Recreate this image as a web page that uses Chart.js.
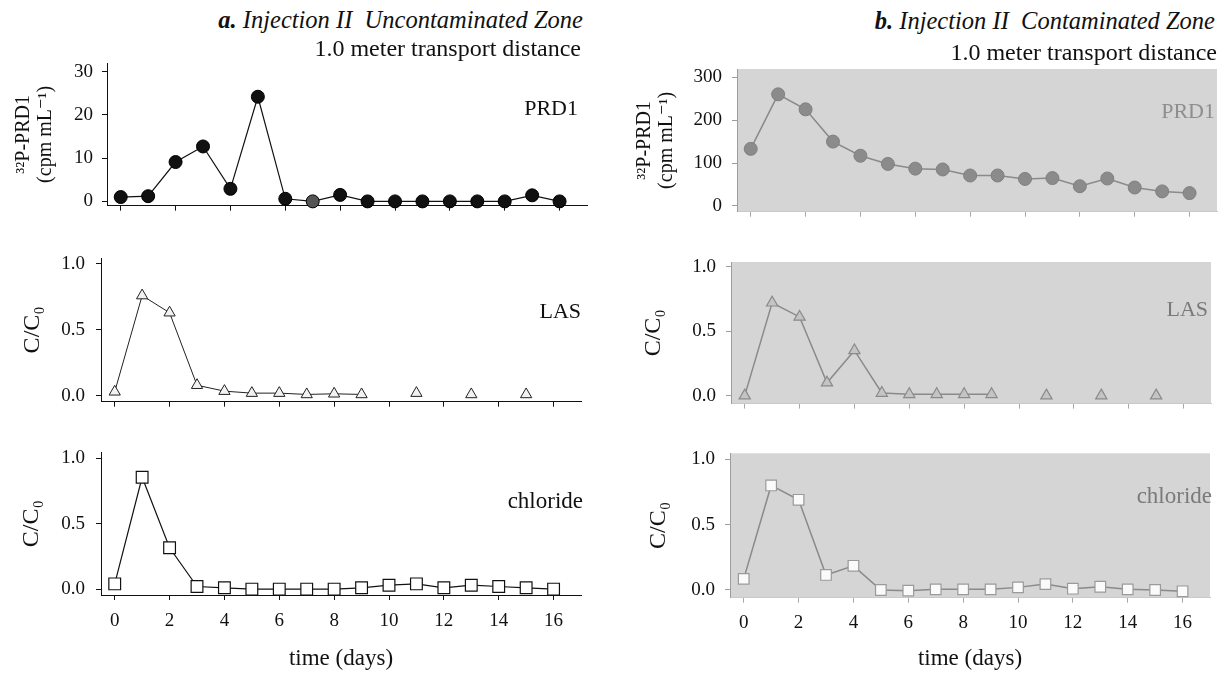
<!DOCTYPE html>
<html><head><meta charset="utf-8">
<script src="https://cdn.jsdelivr.net/npm/chart.js@4.4.0/dist/chart.umd.min.js"></script>
<style>
html,body{margin:0;padding:0;background:#fff;}
body{width:1222px;height:673px;position:relative;overflow:hidden;font-family:"Liberation Serif","DejaVu Serif",serif;color:#111;}
canvas{position:absolute;z-index:1;}
.t{position:absolute;white-space:pre;line-height:1;z-index:5;}
.it{font-style:italic;}
</style></head><body>
<div class="t it" style="right:639px;top:8px;font-size:24.5px;"><b>a.</b> Injection II  Uncontaminated Zone</div>
<div class="t" style="right:641px;top:36px;font-size:24px;">1.0 meter transport distance</div>
<div class="t it" style="right:7px;top:9px;font-size:24.5px;"><b>b.</b> Injection II  Contaminated Zone</div>
<div class="t" style="right:5px;top:40px;font-size:24px;">1.0 meter transport distance</div>
<div class="t" style="right:644px;top:97px;font-size:22px;">PRD1</div>
<div class="t" style="right:641px;top:300px;font-size:22px;">LAS</div>
<div class="t" style="right:639px;top:489px;font-size:23px;">chloride</div>
<div class="t" style="right:7px;top:100px;font-size:22px;color:#8e8e8e;">PRD1</div>
<div class="t" style="right:14px;top:298px;font-size:22px;color:#7a7a7a;">LAS</div>
<div class="t" style="right:10px;top:484px;font-size:23px;color:#7a7a7a;">chloride</div>
<script>
// ---- data ----
const days = [0,1,2,3,4,5,6,7,8,9,10,11,12,13,14,15,16];
const xTicks = [0,2,4,6,8,10,12,14,16];
const prdTicksA = [0,10,20,30];
const prdTicksB = [0,100,200,300];
const ratioTicks = [0,0.5,1.0];

// a. Uncontaminated zone
const prdA = [1.0,1.2,9.1,12.7,2.9,24.2,0.6,0.0,1.5,0,0,0,0,0,0,1.4,0];
const lasA = [0.03,0.76,0.63,0.08,0.035,0.02,0.02,0.01,0.015,0.01,null,0.02,null,0.01,null,0.01,null];
const chlA = [0.04,0.855,0.316,0.02,0.01,0,0,0,0,0.01,0.03,0.04,0.01,0.03,0.02,0.01,0];
// b. Contaminated zone
const prdB = [133,260,225,150,117,98,87,85,71,71,63,65,46,64,43,34,30];
const lasB = [0,0.72,0.61,0.1,0.35,0.02,0.01,0.01,0.01,0.01,null,0,null,0,null,0,null];
const chlB = [0.085,0.80,0.69,0.115,0.185,0,-0.005,0.005,0.005,0.005,0.02,0.045,0.01,0.025,0.005,0,-0.01];

const FONT = '"Liberation Serif", "DejaVu Serif", serif';

Chart.register({
  id:'bg',
  beforeDraw(chart, args, opts){
    if(!opts || !opts.color) return;
    const {ctx, chartArea:a} = chart;
    ctx.save(); ctx.fillStyle = opts.color;
    ctx.fillRect(a.left, a.top, a.right-a.left, a.bottom-a.top);
    ctx.restore();
  }
});

function build(c){
  const cv = document.createElement('canvas');
  cv.width = c.box[2]; cv.height = c.box[3];
  cv.style.left = c.box[0]+'px'; cv.style.top = c.box[1]+'px';
  document.body.appendChild(cv);
  const axisCol = c.gray ? '#9d9d9d' : '#111';
  new Chart(cv, {
    type:'line',
    data:{datasets:[Object.assign({
      data: c.values.map((v,i)=>({x:days[i], y:v})),
      tension:0, spanGaps:false, clip:false
    }, c.ds)]},
    options:{
      responsive:false, animation:false, events:[],
      layout:{autoPadding:false, padding:{left:0, right:c.pr, top:c.pt, bottom:0}},
      plugins:{legend:{display:false}, tooltip:{enabled:false}, bg:{color:c.bg}},
      scales:{
        x:{type:'linear', position:'bottom', min:-0.5, max:17,
           afterBuildTicks:s=>{s.ticks = xTicks.map(v=>({value:v}));},
           afterFit:s=>{s.height = c.xh;},
           border:{display:true, color:c.gray?'#c9c9c9':'#111', width:1},
           grid:{display:true, drawOnChartArea:false, drawTicks:true, tickLength:5, color:c.gray?'#a8a8a8':'#111'},
           ticks:{display:!!c.xlabels, padding:c.xpad||10, color:'#111', font:{family:FONT, size:19}, maxRotation:0,
                  callback:v=>String(v)},
           title:{display:!!c.xlabels, text:'time (days)', color:'#111', font:{family:FONT, size:23}, padding:{top:0,bottom:0}}
        },
        y:{type:'linear', position:'left', min:c.ymin, max:c.ymax,
           afterBuildTicks:s=>{s.ticks = c.yt.map(v=>({value:v}));},
           afterFit:s=>{s.width = c.yw;},
           border:{display:true, color:axisCol, width:1},
           grid:{display:true, drawOnChartArea:false, drawTicks:true, tickLength:5, color:axisCol},
           ticks:{padding:c.ypad, color:'#111', font:{family:FONT, size:19}, callback:c.fmt},
           title:{display:true, text:c.ytitle, color:'#111', font:{family:FONT, size:c.ytsize, lineHeight:1.1}, padding:{top:c.ytpad, bottom:0}}
        }
      }
    }
  });
}

const fmtInt = v=>String(v);
const fmtRatio = v=>v.toFixed(1);
const prdTitle = ['\u00B3\u00B2P-PRD1','(cpm mL\u207B\u00B9)'];
const ccTitle = 'C/C\u2080';

build({box:[0,40,600,200], pr:13, pt:23, xh:34.3, yw:107, ymin:-1, ymax:32, yt:prdTicksA, fmt:fmtInt, ypad:9,
  ytitle:prdTitle, ytsize:20, ytpad:13, values:prdA,
  ds:{borderColor:'#111', borderWidth:1.2, pointStyle:'circle', pointRadius:6.5,
      pointBackgroundColor:ctx=>ctx.dataIndex===7?'#555':'#111', pointBorderColor:'#000', pointBorderWidth:1}});
build({box:[0,235,600,190], pr:19, pt:23, xh:23.3, yw:101, ymin:-0.045, ymax:1.045, yt:ratioTicks, fmt:fmtRatio, ypad:11,
  ytitle:ccTitle, ytsize:24, ytpad:20, values:lasA,
  ds:{borderColor:'#222', borderWidth:1, pointStyle:'triangle', pointRadius:6.5,
      pointBackgroundColor:'#f2f2f2', pointBorderColor:'#222', pointBorderWidth:1}});
build({box:[0,430,600,243], pr:19, pt:22, xh:78, yw:101, ymin:-0.045, ymax:1.045, yt:ratioTicks, fmt:fmtRatio, ypad:11,
  ytitle:ccTitle, ytsize:24, ytpad:19, values:chlA, xlabels:true, xpad:10,
  ds:{borderColor:'#111', borderWidth:1.2, pointStyle:'rect', pointRadius:8.3,
      pointBackgroundColor:'#fff', pointBorderColor:'#111', pointBorderWidth:1.2}});

build({box:[620,45,602,190], pr:5, pt:24, xh:23.3, yw:117, ymin:-13.3, ymax:319, yt:prdTicksB, fmt:fmtInt, ypad:10,
  ytitle:prdTitle, ytsize:20, ytpad:14, values:prdB, gray:true, bg:'#d5d5d5',
  ds:{borderColor:'#8a8a8a', borderWidth:1.5, pointStyle:'circle', pointRadius:6.5,
      pointBackgroundColor:'#8b8b8b', pointBorderColor:'#808080', pointBorderWidth:1}});
build({box:[620,240,602,185], pr:11, pt:22, xh:21, yw:111, ymin:-0.062, ymax:1.036, yt:ratioTicks, fmt:fmtRatio, ypad:10,
  ytitle:ccTitle, ytsize:24, ytpad:21, values:lasB, gray:true, bg:'#d5d5d5',
  ds:{borderColor:'#8a8a8a', borderWidth:1.5, pointStyle:'triangle', pointRadius:6.5,
      pointBackgroundColor:'#c4c4c4', pointBorderColor:'#8a8a8a', pointBorderWidth:1.2}});
build({box:[620,430,602,243], pr:12, pt:23.3, xh:75.3, yw:110, ymin:-0.059, ymax:1.046, yt:ratioTicks, fmt:fmtRatio, ypad:10,
  ytitle:ccTitle, ytsize:24, ytpad:26, values:chlB, gray:true, bg:'#d5d5d5', xlabels:true, xpad:9,
  ds:{borderColor:'#8a8a8a', borderWidth:1.5, pointStyle:'rect', pointRadius:7.5,
      pointBackgroundColor:'#fafafa', pointBorderColor:'#9a9a9a', pointBorderWidth:1.2}});
</script>
</body></html>
